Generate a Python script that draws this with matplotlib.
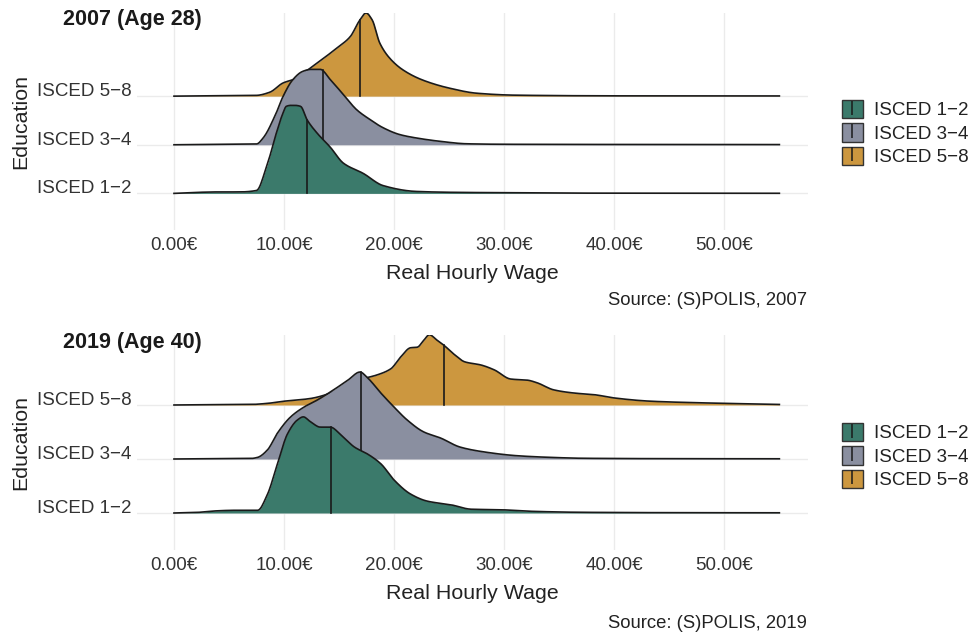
import numpy as np
import matplotlib.pyplot as plt
from matplotlib.patches import Patch
from matplotlib.lines import Line2D

plt.rcParams['font.family'] = ['Liberation Sans', 'DejaVu Sans']

groups = ['ISCED 1\u22122', 'ISCED 3\u22124', 'ISCED 5\u22128']
colors = ['#3b7a6b', '#8a8fa0', '#cc973f']

# 2007 (Age 28): wage grid and ridge heights (scaled density, in row units)
wage07_low = [0, 2, 4, 6, 7.5, 8.4, 9.3, 9.9, 10.2, 10.6, 11.0, 11.5, 12.1, 13, 14.2,
              15.4, 17.2, 19, 22, 26, 30, 35, 45, 55]
dens07_low = [0, 0.02, 0.03, 0.03, 0.06, 0.54, 1.24, 1.65, 1.79, 1.81, 1.81, 1.79, 1.51,
              1.24, 0.95, 0.62, 0.41, 0.16, 0.04, 0.02, 0.014, 0.006, 0.004, 0.002]
wage07_mid = [0, 3, 6, 7.5, 8.1, 9.3, 9.9, 10.8, 11.7, 12.4, 13.3, 14.2, 15.4, 16.6, 17.8,
              19, 20.5, 22, 24.2, 26.6, 30, 40, 55]
dens07_mid = [0, 0.006, 0.01, 0.016, 0.14, 0.66, 0.99, 1.34, 1.51, 1.55, 1.55, 1.34, 1.03,
              0.72, 0.52, 0.35, 0.21, 0.14, 0.07, 0.02, 0.01, 0.006, 0.004]
wage07_high = [0, 3, 6, 7.5, 8.7, 9.9, 11.2, 12.4, 13.6, 14.8, 16, 16.9, 17.45, 18, 18.7,
               19.6, 20.8, 22.6, 25.1, 27.5, 31, 40, 55]
dens07_high = [0, 0.006, 0.01, 0.016, 0.08, 0.27, 0.37, 0.58, 0.78, 0.99, 1.22, 1.57, 1.71,
               1.57, 1.09, 0.78, 0.54, 0.33, 0.16, 0.06, 0.02, 0.006, 0.004]
median07 = [12.1, 13.5, 16.9]

# 2019 (Age 40)
wage19_low = [0, 2, 3.9, 5.5, 7, 7.6, 8.5, 9.4, 10.3, 11.2, 11.75, 12.4, 13.3, 14.2, 15.2,
              16.4, 17.6, 18.8, 20, 21.5, 23, 25.2, 27, 29.7, 32.7, 37, 45, 55]
dens19_low = [0, 0.01, 0.04, 0.05, 0.05, 0.05, 0.35, 0.91, 1.46, 1.72, 1.78, 1.69, 1.59,
              1.59, 1.44, 1.22, 1.09, 0.91, 0.61, 0.35, 0.22, 0.15, 0.07, 0.06, 0.03,
              0.013, 0.006, 0.004]
wage19_mid = [0, 4, 7, 7.6, 8.5, 9.4, 10.6, 11.8, 13, 14.5, 15.8, 16.9, 17.6, 18.8, 20,
              21.2, 22.7, 24.2, 26, 28.2, 31.2, 34.2, 37.3, 45, 55]
dens19_mid = [0, 0.006, 0.01, 0.03, 0.17, 0.48, 0.78, 0.96, 1.09, 1.28, 1.46, 1.61, 1.50,
              1.22, 0.96, 0.72, 0.50, 0.39, 0.22, 0.13, 0.06, 0.03, 0.013, 0.006, 0.004]
wage19_high = [0, 4, 7, 8.5, 10, 12.4, 14.5, 16.7, 18.5, 19.7, 20.6, 21.5, 22.1, 22.7, 23.2,
               23.9, 24.5, 25.5, 26.4, 27.9, 29.1, 30.6, 32.1, 33, 34.5, 36.4, 38.2, 40,
               43.3, 47.9, 55]
dens19_high = [0, 0.006, 0.01, 0.03, 0.07, 0.12, 0.24, 0.46, 0.56, 0.67, 0.89, 1.06, 1.07,
               1.20, 1.30, 1.20, 1.11, 0.93, 0.80, 0.74, 0.65, 0.48, 0.46, 0.41, 0.28,
               0.22, 0.19, 0.13, 0.07, 0.04, 0.01]
median19 = [14.3, 17.0, 24.5]

xticks = [0, 10, 20, 30, 40, 50]


def pchip(x, y, xn):
    # monotone cubic, only used to draw smooth curves through the read points
    x = np.asarray(x, float)
    y = np.asarray(y, float)
    h = np.diff(x)
    d = np.diff(y) / h
    m = np.zeros_like(y)
    for k in range(1, len(x) - 1):
        if d[k - 1] * d[k] > 0:
            w1 = 2 * h[k] + h[k - 1]
            w2 = h[k] + 2 * h[k - 1]
            m[k] = (w1 + w2) / (w1 / d[k - 1] + w2 / d[k])
    m[0], m[-1] = d[0], d[-1]
    idx = np.clip(np.searchsorted(x, xn) - 1, 0, len(x) - 2)
    t = (xn - x[idx]) / h[idx]
    h00 = 2 * t**3 - 3 * t**2 + 1
    h10 = t**3 - 2 * t**2 + t
    h01 = -2 * t**3 + 3 * t**2
    h11 = t**3 - t**2
    return (h00 * y[idx] + h10 * h[idx] * m[idx] + h01 * y[idx + 1]
            + h11 * h[idx] * m[idx + 1])


def draw_panel(ax, series, medians, title, ylim, title_y, leg_y):
    ax.set_xlim(-3.36, 57.6)
    ax.set_ylim(*ylim)
    for s in ['top', 'right', 'left', 'bottom']:
        ax.spines[s].set_visible(False)
    ax.set_xticks(xticks)
    ax.set_xticklabels([f'{v:.2f}\u20ac' for v in xticks])
    ax.set_yticks([1, 2, 3])
    ax.set_yticklabels(groups)
    ax.tick_params(axis='both', length=0, labelsize=13.5, colors='#333333')
    ax.tick_params(axis='y', pad=4)
    ax.tick_params(axis='x', pad=5)
    for t in ax.get_yticklabels():
        t.set_va('baseline')
    ax.grid(True, color='#ebebeb', lw=1)
    ax.set_axisbelow(True)
    ax.set_xlabel('Real Hourly Wage', fontsize=15.4, color='#222222', labelpad=7)
    ax.set_ylabel('Education', fontsize=15.4, color='#222222', labelpad=5)

    # top ridge first, lower ridges cover it
    for i in [2, 1, 0]:
        wx, wy = series[i]
        xs = np.linspace(wx[0], wx[-1], 600)
        ys = np.clip(pchip(wx, wy, xs), 0, None)
        base = i + 1
        z = 10 + (3 - i) * 3
        ax.fill_between(xs, base, base + ys, color=colors[i], lw=0, zorder=z)
        ax.plot(xs, base + ys, color='#1a1a1a', lw=1.2, zorder=z + 1)
        med = medians[i]
        hm = float(pchip(wx, wy, np.array([med]))[0])
        ax.plot([med, med], [base, base + hm], color='#1a1a1a', lw=1.2, zorder=z + 1)

    ax.text(-0.110, title_y, title, transform=ax.transAxes, fontsize=15.5,
            fontweight='bold', color='#1a1a1a', ha='left', va='center')

    handles = [(Patch(facecolor=colors[i], edgecolor='#333333', lw=1),
                Line2D([], [], marker='|', ls='none', color='#1a1a1a', markersize=10.5,
                       markeredgewidth=1.1)) for i in range(3)]
    ax.legend(handles, groups, loc='center left', bbox_to_anchor=(1.039, leg_y),
              frameon=False, fontsize=13.5, handlelength=1.15, handleheight=1.15,
              labelspacing=0.2, handletextpad=0.55, numpoints=1, borderaxespad=0,
              labelcolor='#222222')
    return ax


fig = plt.figure(figsize=(9.69, 6.35), dpi=100)
W, H = 969, 635

ax1 = fig.add_axes([137 / W, 1 - 230 / H, 671 / W, 217 / H])
ax2 = fig.add_axes([137 / W, 1 - 550 / H, 671 / W, 215 / H])

draw_panel(ax1, [(wage07_low, dens07_low), (wage07_mid, dens07_mid),
                 (wage07_high, dens07_high)], median07, '2007 (Age 28)',
           (0.247, 4.71), 0.972, 0.447)
draw_panel(ax2, [(wage19_low, dens19_low), (wage19_mid, dens19_mid),
                 (wage19_high, dens19_high)], median19, '2019 (Age 40)',
           (0.315, 4.296), 0.967, 0.437)

fig.text(807 / W, 1 - 300 / H, 'Source: (S)POLIS, 2007', ha='right', va='center',
         fontsize=13.3, color='#222222')
fig.text(807 / W, 1 - 624 / H, 'Source: (S)POLIS, 2019', ha='right', va='center',
         fontsize=13.3, color='#222222')

fig.savefig('out.png', dpi=100)
